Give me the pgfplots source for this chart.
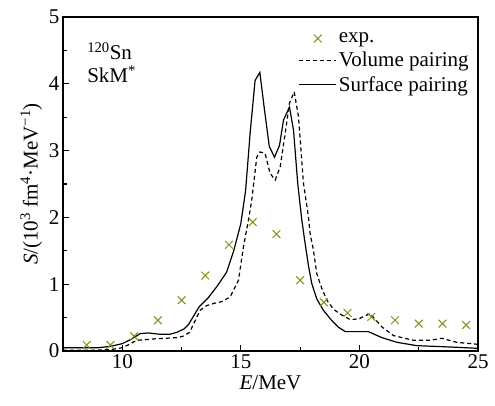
\documentclass[border=0pt]{standalone}
\usepackage{fontspec}
\setmainfont{Liberation Serif}
\usepackage{pgfplots}
\pgfplotsset{compat=1.18}
\definecolor{expcol}{RGB}{140,140,20}
\newcommand{\fs}{\fontsize{21}{22}\selectfont}
\begin{document}
\begin{tikzpicture}
\begin{axis}[
  scale only axis,
  width=415pt, height=334pt,
  xmin=7.5, xmax=25, ymin=0, ymax=5,
  xtick={10,15,20,25}, ytick={0,1,2,3,4,5},
  xticklabels={10,15,20,25}, yticklabels={0,1,2,3,4,5},
  minor x tick num=1, minor y tick num=1,
  tick pos=left, tick align=inside,
  major tick length=6pt, minor tick length=4pt,
  axis line style={line width=1.3pt},
  every tick/.style={black, line width=1.1pt},
  tick label style={font=\fs},
  label style={font=\fs},
  xlabel={\textit{E}/MeV},
  ylabel={\textit{S}/(10\textsuperscript{3} fm\textsuperscript{4}·MeV\textsuperscript{−1})},
  legend style={draw=none, fill=none, font=\fs, at={(rel axis cs:0.985,0.962)}, anchor=north east, row sep=4pt, inner sep=1pt},
  legend cell align=left,
  legend image code/.code={\draw[mark repeat=2,mark phase=2] plot coordinates {(0cm,0cm) (0.65cm,0cm) (1.3cm,0cm)};},
]
\addplot[only marks, mark=x, mark size=5.5pt, color=expcol, line width=1pt] coordinates {
(8.5,0.09) (9.5,0.09) (10.5,0.22) (11.5,0.46) (12.5,0.76) (13.5,1.13) (14.5,1.59)
(15.5,1.93) (16.5,1.75) (17.5,1.06) (18.5,0.73) (19.5,0.57) (20.5,0.51) (21.5,0.46)
(22.5,0.41) (23.5,0.41) (24.5,0.39)};
\addlegendentry{exp.}
\addplot[black, line width=1.2pt, dash pattern=on 4pt off 3pt] coordinates {
(7.5,0.01) (8.5,0.01) (9.5,0.02) (10.0,0.05) (10.3,0.10) (10.6,0.16) (11.0,0.17)
(11.3,0.18) (12.3,0.20) (12.55,0.22) (12.84,0.28) (13.0,0.40) (13.28,0.61) (13.56,0.68)
(13.84,0.71) (14.2,0.74) (14.55,0.81) (14.9,1.06) (15.11,1.56) (15.32,1.96) (15.46,2.26)
(15.67,2.90) (15.81,2.98) (16.02,2.96) (16.23,2.66) (16.45,2.56) (16.66,2.76) (16.87,3.26)
(17.05,3.71) (17.25,3.88) (17.43,3.51) (17.64,2.51) (17.85,2.01) (17.92,1.76) (18.06,1.51)
(18.2,1.16) (18.4,0.95) (18.63,0.76) (18.9,0.63) (19.15,0.56) (19.61,0.47) (19.96,0.48)
(20.2,0.52) (20.45,0.56) (20.95,0.36) (21.44,0.23) (22.28,0.16) (22.99,0.16) (23.48,0.19)
(24.1,0.13) (25,0.10)};
\addlegendentry{Volume pairing}
\addplot[black, line width=1.2pt] coordinates {
(7.5,0.05) (8.5,0.05) (9.0,0.05) (9.5,0.07) (10.0,0.11) (10.4,0.18) (10.75,0.26)
(11.1,0.27) (11.6,0.25) (12.0,0.25) (12.3,0.28) (12.6,0.33) (12.8,0.40) (13.0,0.52)
(13.24,0.66) (13.63,0.80) (14.0,0.97) (14.4,1.18) (14.7,1.50) (15.0,1.91) (15.2,2.40)
(15.4,3.30) (15.6,4.05) (15.8,4.17) (16.0,3.60) (16.2,3.06) (16.42,2.90) (16.63,3.08)
(16.8,3.46) (17.05,3.65) (17.22,3.31) (17.4,2.50) (17.57,1.96) (17.71,1.61) (17.85,1.28)
(17.99,1.01) (18.2,0.78) (18.48,0.61) (18.8,0.47) (19.1,0.36) (19.4,0.29) (19.9,0.29)
(20.38,0.29) (20.95,0.20) (21.58,0.13) (22.42,0.08) (23.83,0.06) (25,0.04)};
\addlegendentry{Surface pairing}
\node[anchor=north west, align=left, font=\fs, inner sep=0pt] at (rel axis cs:0.058,0.925)
  {\textsuperscript{120}Sn\\[1pt]SkM\textsuperscript{*}};
\end{axis}
\path (current axis.south west) ++(-63pt,-54pt) coordinate (bbA);
\path (current axis.north east) ++(17pt,17pt) coordinate (bbB);
\path (bbA) rectangle (bbB);
\end{tikzpicture}
\end{document}
